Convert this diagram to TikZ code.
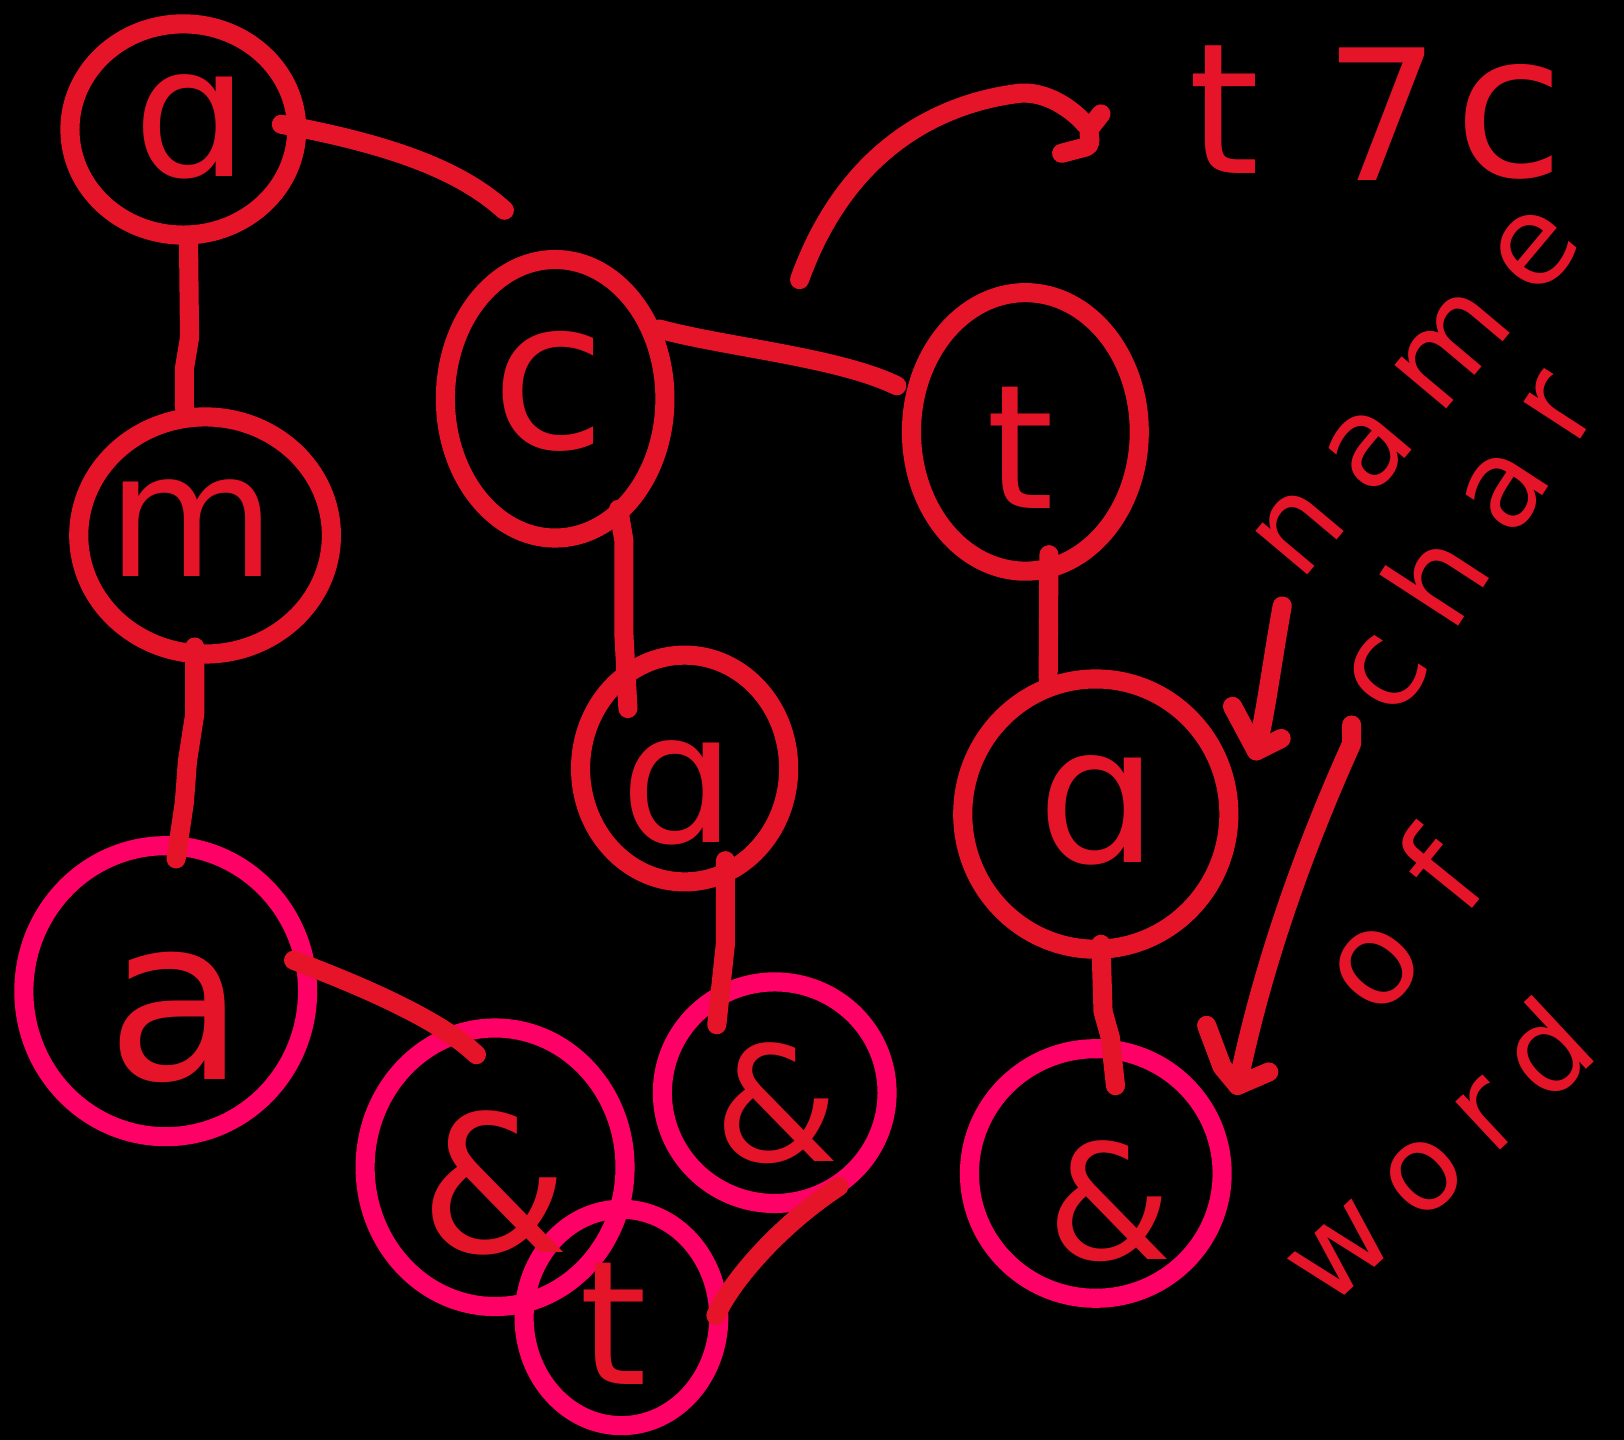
\documentclass[tikz,border=0pt]{standalone}
\usepackage{fontspec}
\setmainfont{DejaVu Sans}
\usetikzlibrary{shapes.geometric,calc}
\definecolor{inkred}{RGB}{230,20,40}
\definecolor{inkpink}{RGB}{255,0,102}
\newcommand{\myfs}[1]{\fontsize{#1}{#1}\selectfont}
\newcommand{\myls}[1]{\addfontfeatures{LetterSpace=#1}}
\begin{document}
\begin{tikzpicture}[x=0.02cm,y=-0.02cm,
  ring/.style={ellipse,draw=inkred,line width=10.5pt,inner sep=0pt},
  pinkring/.style={ring,draw=inkpink},
  glyph/.style={text=inkred,inner sep=0pt},
  link/.style={draw=inkred,line width=10.5pt,line cap=round,line join=round}]
\useasboundingbox (0,0) rectangle (1568,1390);
\fill[black] (0,0) rectangle (1568,1390);

% red rings
\node[ring,minimum width=4.38cm,minimum height=4.08cm] (n1) at (177,125) {};
\node[ring,minimum width=4.88cm,minimum height=4.58cm] (n2) at (198,517) {};
\node[ring,minimum width=4.24cm,minimum height=5.38cm] (n4) at (536,385) {};
\node[ring,minimum width=4.02cm,minimum height=4.38cm] (n5) at (661,742) {};
\node[ring,minimum width=4.40cm,minimum height=5.38cm] (n9) at (990,417) {};
\node[ring,minimum width=5.14cm,minimum height=5.22cm] (n10) at (1058,786) {};

% pink rings
\node[pinkring,minimum width=5.48cm,minimum height=5.62cm] (n3) at (160,957) {};
\node[pinkring,minimum width=4.34cm,minimum height=4.28cm] (n6) at (748,1055) {};
\node[pinkring,minimum width=5.02cm,minimum height=5.38cm] (n7) at (478,1127) {};
\node[pinkring,minimum width=3.76cm,minimum height=4.18cm] (n8) at (600,1272) {};
\node[pinkring,minimum width=4.88cm,minimum height=4.82cm] (n11) at (1058,1133) {};

% connectors
\draw[link] ($(n1.south)+(5,-5)$) -- ++(1,95) -- ++(-5,30) -- ($(n2.north)+(-20,0)$);
\coordinate (rc) at (487,203);
\draw[link] ($(n1.east)+(-24,-5)$) .. controls (380,140) and (445,165) .. (rc);
\draw[link] ($(n2.south)+(-10,-16)$) -- ++(0,65) -- ++(-7,45) -- ++(-3,40) -- ($(n3.north)+(10,22)$);
\draw[link] ($(n3.15)+(-18,8)$) .. controls (330,945) and (420,980) .. ($(n7.north)+(-18,35)$);
\draw[link] ($(n4.35)+(0,3)$) .. controls (700,335) and (810,345) .. ($(n9.160)+(-10,-3)$);
\draw[link] ($(n4.-60)+(-6,-10)$) -- ++(5,30) -- ++(0,90) -- ($(n5.130)+(19,30)$);
\draw[link] ($(n5.-65)+(-10,-17)$) -- ++(0,80) -- ($(n6.125)+(11,30)$);
\draw[link] ($(n6.-55)+(-5,-5)$) .. controls (760,1178) and (710,1230) .. ($(n8.east)+(-12,-2)$);
\draw[link] ($(n9.-80)+(-2,-22)$) -- ($(n10.north)+(-46,8)$);
\draw[link] ($(n10.south)+(5,-14)$) -- ++(2,65) -- ++(7,25) -- ($(n11.north)+(19,45)$);

% letters in the nodes
\node[glyph] (l1) at (185,122) {\myfs{100}ɑ};
\node[glyph] (l2) at (185,510) {\myfs{95}m};
\node[glyph] (l3) at (170,982) {\myfs{125}a};
\node[glyph] (l4) at (530,378) {\myfs{115}c};
\node[glyph] (l5) at (655,765) {\myfs{100}ɑ};
\node[glyph] (l6) at (750,1065) {\myfs{88}\&};
\node[glyph] (l7) at (478,1142) {\myfs{105}\&};
\node[glyph] (l8) at (592,1278) {\myfs{95}t};
\node[glyph] (l9) at (985,432) {\myfs{95}t};
\node[glyph] (l10) at (1060,782) {\myfs{105}ɑ};
\node[glyph] (l11) at (1072,1160) {\myfs{88}\&};

% top annotation
\coordinate (cs) at (772,270);
\coordinate (ce) at (1048,120);
\draw[link] (cs) .. controls (815,150) and (900,100) .. (985,90) .. controls (1010,88) and (1035,105) .. (ce);
\coordinate (hk) at (1063,110);
\draw[link] (hk) -- ++(-11,14) .. controls ++(-2,8) and ++(8,-3) .. ++(-4,18) -- ++(-23,6);
\node[glyph] (t1) at (1182,106) {\myfs{100}t};
\node[glyph] (t2) at (1335,110) {\myfs{100}7};
\node[glyph] (t3) at (1457,118) {\myfs{110}c};

% side annotations
\node[glyph,rotate=50] (tname) at (1368,378) {\myfs{68}\myls{25}name};
\node[glyph,rotate=57] (tchar) at (1410,520) {\myfs{68}\myls{28}char};
\node[glyph,rotate=51] (tof) at (1350,890) {\myfs{72}\myls{40}of};
\node[glyph,rotate=43] (tword) at (1385,1110) {\myfs{66}\myls{22}word};

% arrows
\coordinate (a1s) at (1238,585);
\coordinate (a1t) at (1213,725);
\draw[link] (a1s) .. controls (1228,640) and (1222,690) .. (a1t);
\draw[link] ($(a1t)+(-23,-43)$) -- (a1t) -- ++(24,-12);
\coordinate (b1s) at (1305,700);
\coordinate (b1t) at (1195,1048);
\draw[link] (b1s) -- ++(0,18) .. controls (1250,840) and (1215,950) .. (b1t);
\draw[link] ($(b1t)+(-30,-58)$) -- ++(15,40) -- (b1t) -- ++(30,-13);
\end{tikzpicture}
\end{document}
